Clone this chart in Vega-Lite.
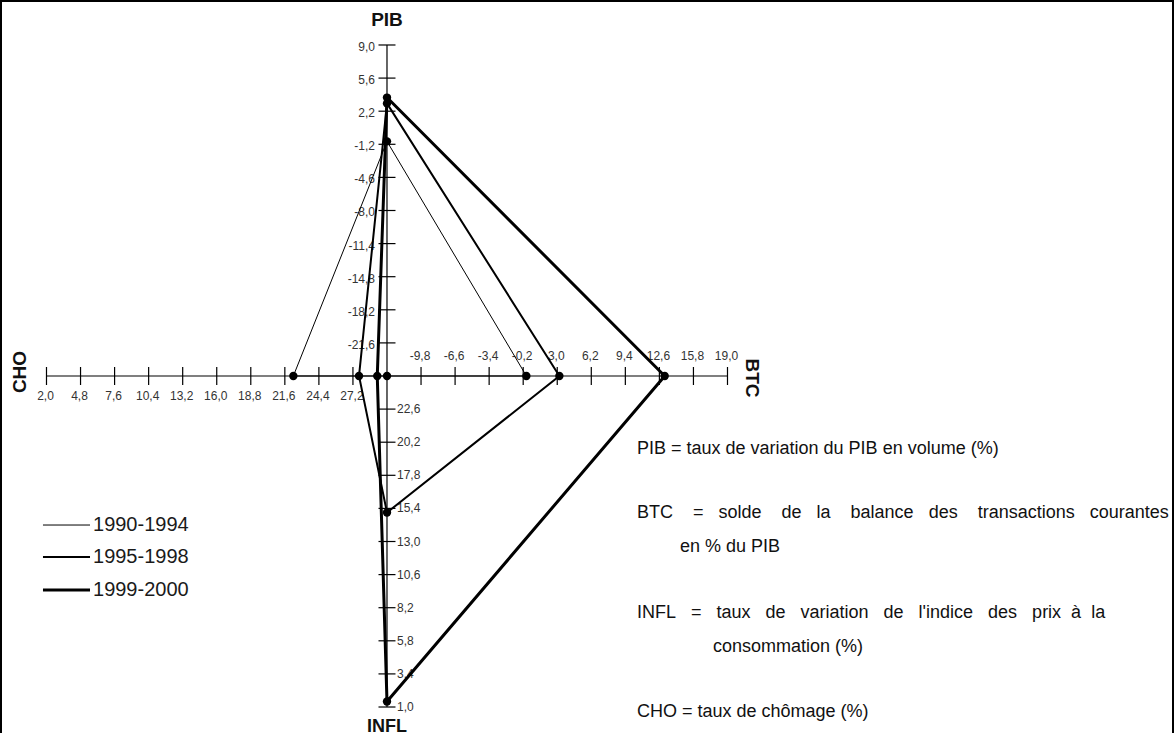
{
  "$schema": "https://vega.github.io/schema/vega-lite/v6.json",
  "width": 1172,
  "height": 745,
  "autosize": {"type": "none"},
  "padding": {"left": 1, "top": 1, "right": 2, "bottom": 0},
  "background": "white",
  "config": {
    "view": {"stroke": "black", "strokeWidth": 2},
    "font": "Liberation Sans",
    "text": {"font": "Liberation Sans", "color": "#111"}
  },
  "datasets": {
    "profils": [
      {"periode": "1990-1994", "axe": "PIB", "ordre": 1, "valeur": -0.9},
      {"periode": "1990-1994", "axe": "BTC", "ordre": 2, "valeur": 0.1},
      {"periode": "1990-1994", "axe": "INFL", "ordre": 3, "valeur": 25.0},
      {"periode": "1990-1994", "axe": "CHO", "ordre": 4, "valeur": 22.3},
      {"periode": "1995-1998", "axe": "PIB", "ordre": 1, "valeur": 3.0},
      {"periode": "1995-1998", "axe": "BTC", "ordre": 2, "valeur": 3.2},
      {"periode": "1995-1998", "axe": "INFL", "ordre": 3, "valeur": 15.1},
      {"periode": "1995-1998", "axe": "CHO", "ordre": 4, "valeur": 27.7},
      {"periode": "1999-2000", "axe": "PIB", "ordre": 1, "valeur": 3.6},
      {"periode": "1999-2000", "axe": "BTC", "ordre": 2, "valeur": 13.1},
      {"periode": "1999-2000", "axe": "INFL", "ordre": 3, "valeur": 1.4},
      {"periode": "1999-2000", "axe": "CHO", "ordre": 4, "valeur": 29.2}
    ],
    "graduations": [
      {"axe": "PIB", "valeur": 9.0}, {"axe": "PIB", "valeur": 5.6}, {"axe": "PIB", "valeur": 2.2},
      {"axe": "PIB", "valeur": -1.2}, {"axe": "PIB", "valeur": -4.6}, {"axe": "PIB", "valeur": -8.0},
      {"axe": "PIB", "valeur": -11.4}, {"axe": "PIB", "valeur": -14.8}, {"axe": "PIB", "valeur": -18.2},
      {"axe": "PIB", "valeur": -21.6},
      {"axe": "BTC", "valeur": -9.8}, {"axe": "BTC", "valeur": -6.6}, {"axe": "BTC", "valeur": -3.4},
      {"axe": "BTC", "valeur": -0.2}, {"axe": "BTC", "valeur": 3.0}, {"axe": "BTC", "valeur": 6.2},
      {"axe": "BTC", "valeur": 9.4}, {"axe": "BTC", "valeur": 12.6}, {"axe": "BTC", "valeur": 15.8},
      {"axe": "BTC", "valeur": 19.0},
      {"axe": "INFL", "valeur": 22.6}, {"axe": "INFL", "valeur": 20.2}, {"axe": "INFL", "valeur": 17.8},
      {"axe": "INFL", "valeur": 15.4}, {"axe": "INFL", "valeur": 13.0}, {"axe": "INFL", "valeur": 10.6},
      {"axe": "INFL", "valeur": 8.2}, {"axe": "INFL", "valeur": 5.8}, {"axe": "INFL", "valeur": 3.4},
      {"axe": "INFL", "valeur": 1.0},
      {"axe": "CHO", "valeur": 2.0}, {"axe": "CHO", "valeur": 4.8}, {"axe": "CHO", "valeur": 7.6},
      {"axe": "CHO", "valeur": 10.4}, {"axe": "CHO", "valeur": 13.2}, {"axe": "CHO", "valeur": 16.0},
      {"axe": "CHO", "valeur": 18.8}, {"axe": "CHO", "valeur": 21.6}, {"axe": "CHO", "valeur": 24.4},
      {"axe": "CHO", "valeur": 27.2}
    ]
  },
  "layer": [
    {
      "data": {"values": [{}]},
      "layer": [
        {
          "mark": {"type": "rule", "color": "black", "strokeWidth": 1.2},
          "encoding": {
            "x": {"datum": -1, "type": "quantitative", "scale": {"domain": [-1.1336, 2.3084], "nice": false, "zero": false}, "axis": null},
            "x2": {"datum": 1},
            "y": {"datum": 0, "type": "quantitative", "scale": {"domain": [-1.1178, 1.1329], "nice": false, "zero": false}, "axis": null}
          }
        },
        {
          "mark": {"type": "rule", "color": "black", "strokeWidth": 1.2},
          "encoding": {
            "x": {"datum": 0, "type": "quantitative", "scale": {"domain": [-1.1336, 2.3084], "nice": false, "zero": false}, "axis": null},
            "y": {"datum": -1, "type": "quantitative", "scale": {"domain": [-1.1178, 1.1329], "nice": false, "zero": false}, "axis": null},
            "y2": {"datum": 1}
          }
        }
      ]
    },
    {
      "data": {"name": "graduations"},
      "transform": [
        {"calculate": "datum.axe === 'PIB' ? (datum.valeur + 25) / 34 : datum.axe === 'BTC' ? (datum.valeur + 13) / 32 : datum.axe === 'INFL' ? (25 - datum.valeur) / 24 : (30 - datum.valeur) / 28", "as": "u"},
        {"calculate": "datum.axe === 'BTC' ? datum.u : datum.axe === 'CHO' ? -datum.u : 0", "as": "X"},
        {"calculate": "datum.axe === 'PIB' ? datum.u : datum.axe === 'INFL' ? -datum.u : 0", "as": "Y"},
        {"calculate": "replace(replace(format(datum.valeur, '.1f'), '.', ','), '\u2212', '-')", "as": "etiquette"}
      ],
      "encoding": {
        "x": {"field": "X", "type": "quantitative", "scale": {"domain": [-1.1336, 2.3084], "nice": false, "zero": false}, "axis": null},
        "y": {"field": "Y", "type": "quantitative", "scale": {"domain": [-1.1178, 1.1329], "nice": false, "zero": false}, "axis": null}
      },
      "layer": [
        {
          "transform": [{"filter": "datum.axe === 'PIB' || datum.axe === 'INFL'"}],
          "mark": {"type": "tick", "orient": "horizontal", "size": 17, "thickness": 1.2, "color": "black", "opacity": 1}
        },
        {
          "transform": [{"filter": "datum.axe === 'BTC' || datum.axe === 'CHO'"}],
          "mark": {"type": "tick", "orient": "vertical", "size": 18, "thickness": 1.2, "color": "black", "opacity": 1}
        },
        {
          "transform": [{"filter": "datum.axe === 'PIB'"}],
          "mark": {"type": "text", "align": "right", "baseline": "middle", "dx": -12, "dy": 2, "fontSize": 12, "color": "#333"},
          "encoding": {"text": {"field": "etiquette"}}
        },
        {
          "transform": [{"filter": "datum.axe === 'INFL'"}],
          "mark": {"type": "text", "align": "left", "baseline": "middle", "dx": 10, "dy": 0, "fontSize": 12, "color": "#333"},
          "encoding": {"text": {"field": "etiquette"}}
        },
        {
          "transform": [{"filter": "datum.axe === 'BTC'"}],
          "mark": {"type": "text", "align": "center", "baseline": "middle", "dx": -1, "dy": -20, "fontSize": 12, "color": "#333"},
          "encoding": {"text": {"field": "etiquette"}}
        },
        {
          "transform": [{"filter": "datum.axe === 'CHO'"}],
          "mark": {"type": "text", "align": "center", "baseline": "middle", "dx": -1, "dy": 20, "fontSize": 12, "color": "#333"},
          "encoding": {"text": {"field": "etiquette"}}
        }
      ]
    },
    {
      "data": {"name": "profils"},
      "transform": [
        {"calculate": "datum.axe === 'PIB' ? (datum.valeur + 25) / 34 : datum.axe === 'BTC' ? (datum.valeur + 13) / 32 : datum.axe === 'INFL' ? (25 - datum.valeur) / 24 : (30 - datum.valeur) / 28", "as": "u"},
        {"calculate": "datum.axe === 'BTC' ? datum.u : datum.axe === 'CHO' ? -datum.u : 0", "as": "X"},
        {"calculate": "datum.axe === 'PIB' ? datum.u : datum.axe === 'INFL' ? -datum.u : 0", "as": "Y"}
      ],
      "encoding": {
        "x": {"field": "X", "type": "quantitative", "scale": {"domain": [-1.1336, 2.3084], "nice": false, "zero": false}, "axis": null},
        "y": {"field": "Y", "type": "quantitative", "scale": {"domain": [-1.1178, 1.1329], "nice": false, "zero": false}, "axis": null}
      },
      "layer": [
        {
          "mark": {"type": "line", "interpolate": "linear-closed", "color": "black", "strokeJoin": "miter"},
          "encoding": {
            "order": {"field": "ordre", "type": "quantitative"},
            "strokeWidth": {
              "field": "periode",
              "type": "ordinal",
              "scale": {"domain": ["1990-1994", "1995-1998", "1999-2000"], "range": [1, 3, 4.5]},
              "legend": null
            }
          }
        },
        {
          "mark": {"type": "point", "filled": true, "color": "black", "size": 70, "opacity": 1}
        }
      ]
    },
    {
      "data": {"values": [{}]},
      "encoding": {
        "x": {"type": "quantitative", "scale": {"domain": [-1.1336, 2.3084], "nice": false, "zero": false}, "axis": null},
        "y": {"type": "quantitative", "scale": {"domain": [-1.1178, 1.1329], "nice": false, "zero": false}, "axis": null}
      },
      "layer": [
        {
          "mark": {"type": "rule", "color": "black"},
          "encoding": {
            "x": {"datum": -1.0103}, "x2": {"datum": -0.8722}, "y": {"datum": -0.4502},
            "strokeWidth": {"datum": "1990-1994", "type": "ordinal", "scale": {"domain": ["1990-1994", "1995-1998", "1999-2000"], "range": [1, 3, 4.5]}, "legend": null}
          }
        },
        {
          "mark": {"type": "rule", "color": "black"},
          "encoding": {
            "x": {"datum": -1.0103}, "x2": {"datum": -0.8722}, "y": {"datum": -0.5468},
            "strokeWidth": {"datum": "1995-1998", "type": "ordinal", "scale": {"domain": ["1990-1994", "1995-1998", "1999-2000"], "range": [1, 3, 4.5]}, "legend": null}
          }
        },
        {
          "mark": {"type": "rule", "color": "black"},
          "encoding": {
            "x": {"datum": -1.0103}, "x2": {"datum": -0.8722}, "y": {"datum": -0.6465},
            "strokeWidth": {"datum": "1999-2000", "type": "ordinal", "scale": {"domain": ["1990-1994", "1995-1998", "1999-2000"], "range": [1, 3, 4.5]}, "legend": null}
          }
        },
        {
          "mark": {"type": "text", "text": "1990-1994", "fontSize": 20, "color": "#1a1a1a", "align": "left", "baseline": "middle"},
          "encoding": {"x": {"datum": -0.8634}, "y": {"datum": -0.4502}}
        },
        {
          "mark": {"type": "text", "text": "1995-1998", "fontSize": 20, "color": "#1a1a1a", "align": "left", "baseline": "middle"},
          "encoding": {"x": {"datum": -0.8634}, "y": {"datum": -0.5468}}
        },
        {
          "mark": {"type": "text", "text": "1999-2000", "fontSize": 20, "color": "#1a1a1a", "align": "left", "baseline": "middle"},
          "encoding": {"x": {"datum": -0.8634}, "y": {"datum": -0.6465}}
        },
        {
          "mark": {"type": "text", "text": "PIB", "fontSize": 19, "fontWeight": "bold", "align": "center", "baseline": "middle"},
          "encoding": {"x": {"datum": 0}, "y": {"datum": 1.0755}}
        },
        {
          "mark": {"type": "text", "text": "INFL", "fontSize": 18, "fontWeight": "bold", "align": "center", "baseline": "alphabetic"},
          "encoding": {"x": {"datum": 0}, "y": {"datum": -1.0755}}
        },
        {
          "mark": {"type": "text", "text": "CHO", "fontSize": 19, "fontWeight": "bold", "align": "center", "baseline": "middle", "angle": 270},
          "encoding": {"x": {"datum": -1.0778}, "y": {"datum": 0.0121}}
        },
        {
          "mark": {"type": "text", "text": "BTC", "fontSize": 19, "fontWeight": "bold", "align": "center", "baseline": "middle", "angle": 90},
          "encoding": {"x": {"datum": 1.072}, "y": {"datum": -0.006}}
        },
        {
          "mark": {"type": "text", "text": "PIB = taux de variation du PIB en volume (%)", "fontSize": 18, "align": "left", "baseline": "middle"},
          "encoding": {"x": {"datum": 0.7342}, "y": {"datum": -0.2205}}
        },
        {
          "mark": {"type": "text", "text": "BTC\u00a0\u00a0\u00a0\u00a0=\u00a0\u00a0\u00a0solde\u00a0\u00a0\u00a0\u00a0de\u00a0\u00a0\u00a0la\u00a0\u00a0\u00a0\u00a0balance\u00a0\u00a0\u00a0des\u00a0\u00a0\u00a0\u00a0transactions\u00a0\u00a0\u00a0courantes", "fontSize": 18, "align": "left", "baseline": "middle"},
          "encoding": {"x": {"datum": 0.7342}, "y": {"datum": -0.4139}}
        },
        {
          "mark": {"type": "text", "text": "en % du PIB", "fontSize": 18, "align": "left", "baseline": "middle"},
          "encoding": {"x": {"datum": 0.8605}, "y": {"datum": -0.5166}}
        },
        {
          "mark": {"type": "text", "text": "INFL\u00a0\u00a0\u00a0=\u00a0\u00a0\u00a0taux\u00a0\u00a0\u00a0de\u00a0\u00a0\u00a0variation\u00a0\u00a0\u00a0de\u00a0\u00a0\u00a0l'indice\u00a0\u00a0\u00a0des\u00a0\u00a0\u00a0prix\u00a0\u00a0à\u00a0\u00a0la", "fontSize": 18, "align": "left", "baseline": "middle"},
          "encoding": {"x": {"datum": 0.7342}, "y": {"datum": -0.716}}
        },
        {
          "mark": {"type": "text", "text": "consommation (%)", "fontSize": 18, "align": "left", "baseline": "middle"},
          "encoding": {"x": {"datum": 0.9574}, "y": {"datum": -0.8187}}
        },
        {
          "mark": {"type": "text", "text": "CHO = taux de chômage (%)", "fontSize": 18, "align": "left", "baseline": "middle"},
          "encoding": {"x": {"datum": 0.7342}, "y": {"datum": -1.0151}}
        }
      ]
    }
  ]
}
